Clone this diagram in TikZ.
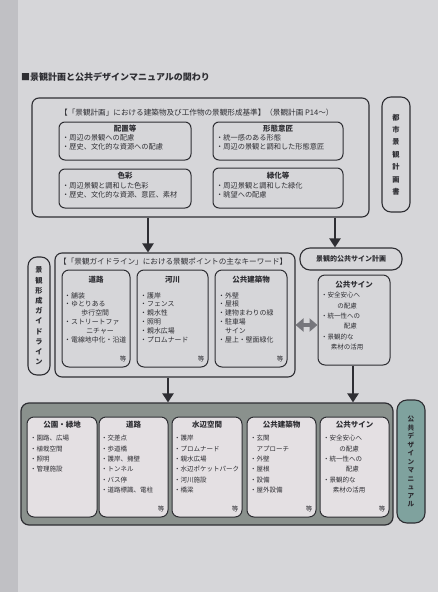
\documentclass[tikz,border=0pt]{standalone}
\usepackage{fontspec}
\setmainfont{Noto Sans CJK JP}
\usetikzlibrary{arrows.meta}
\definecolor{paper}{HTML}{D6D6D9}
\definecolor{edge}{HTML}{C0C0C4}
\definecolor{ink}{HTML}{2E2E33}
\definecolor{panel}{HTML}{8A918D}
\definecolor{cell}{HTML}{E4E0E3}
\definecolor{tealbox}{HTML}{7FA29E}
\definecolor{dblgray}{HTML}{76767C}
\tikzset{
  frame/.style={draw=ink, line width=1.1pt, rounded corners=7pt, inner sep=0pt},
  sub/.style={draw=ink, line width=1pt, rounded corners=6pt, inner sep=0pt},
  cellbox/.style={draw=ink, line width=1pt, rounded corners=7pt, fill=cell, inner sep=0pt},
  ttl/.style={font=\fontsize{7.5}{8}\selectfont\bfseries, text=ink, inner sep=0pt},
  hdr/.style={font=\fontsize{7.6}{8}\selectfont, text=ink, inner sep=0pt, anchor=west},
  itm/.style={font=\fontsize{6.9}{8.8}\selectfont, text=ink, align=left, inner sep=0pt, anchor=north west},
  itmt/.style={font=\fontsize{7.2}{9}\selectfont, text=ink, align=left, inner sep=0pt, anchor=north west},
  itmb/.style={font=\fontsize{6.5}{10.4}\selectfont, text=ink, align=left, inner sep=0pt, anchor=north west},
  etc/.style={font=\fontsize{6.5}{8}\selectfont, text=ink, inner sep=0pt, anchor=south east},
  vtxt/.style={font=\fontsize{7.2}{#1}\selectfont\bfseries, text=ink, align=center, inner sep=0pt},
  flow/.style={draw=ink, line width=2.4pt, -{Triangle[length=9pt,width=11pt]}},
  dbl/.style={draw=dblgray, line width=3.5pt, {Triangle[length=8pt,width=13pt]}-{Triangle[length=8pt,width=13pt]}},
}
\begin{document}
\begin{tikzpicture}[x=1pt,y=-1pt]
\useasboundingbox (0,0) rectangle (438,592);
\fill[paper] (0,0) rectangle (438,592);
\fill[edge] (0,0) rectangle (18,592);

% title
\node[font=\fontsize{9}{10}\selectfont\bfseries, text=ink, anchor=west, inner sep=0pt] (title) at (21,77) {■景観計画と公共デザインマニュアルの関わり};

% ---------- top block ----------
\node[frame, minimum width=337pt, minimum height=119pt] (top) at (200.5,157.5) {};
\node[hdr] (tophdr) at (60,113) {【「景観計画」における建築物及び工作物の景観形成基準】（景観計画 P14～）};
\node[sub, minimum width=132pt, minimum height=38pt] (tl) at (125,141) {};
\node[sub, minimum width=130pt, minimum height=38pt] (tr) at (278,141) {};
\node[sub, minimum width=132pt, minimum height=39pt] (bl) at (125,188.5) {};
\node[sub, minimum width=130pt, minimum height=40pt] (br) at (278,188) {};
\node[ttl] (tlt) at (125,129) {配置等};
\node[itmt] (tli) at (62,134.5) {・周辺の景観への配慮\\・歴史、文化的な資源への配慮};
\node[ttl] (trt) at (278,129) {形態意匠};
\node[itmt] (tri) at (216,134.5) {・統一感のある形態\\・周辺の景観と調和した形態意匠};
\node[ttl] (blt) at (125,176) {色彩};
\node[itmt] (bli) at (62,182) {・周辺景観と調和した色彩\\・歴史、文化的な資源、意匠、素材};
\node[ttl] (brt) at (278,176) {緑化等};
\node[itmt] (bri) at (216,182) {・周辺景観と調和した緑化\\・眺望への配慮};

\node[frame, rounded corners=9pt, minimum width=28pt, minimum height=115pt] (rv1) at (396,154.5) {};
\node[vtxt=12.4] (rv1t) at (rv1.center) {都\\市\\景\\観\\計\\画\\書};

% ---------- middle block ----------
\node[frame, minimum width=240pt, minimum height=124pt] (mid) at (175,315) {};
\node[hdr] (midhdr) at (59,262) {【「景観ガイドライン」における景観ポイントの主なキーワード】};
\node[sub, rounded corners=7pt, minimum width=68pt, minimum height=97pt] (c1) at (96,318.5) {};
\node[sub, rounded corners=7pt, minimum width=71pt, minimum height=97pt] (c2) at (172.5,318.5) {};
\node[sub, rounded corners=7pt, minimum width=72pt, minimum height=97pt] (c3) at (251,318.5) {};
\node[ttl] (c1t) at (96,280) {道路};
\node[itm] (c1i) at (64,292) {・舗装\\・ゆとりある\\\hspace*{2.5em}歩行空間\\・ストリートファ\\\hspace*{3.2em}ニチャー\\・電線地中化・沿道};
\node[etc] (c1e) at ([xshift=-4pt,yshift=5pt]c1.south east) {等};
\node[ttl] (c2t) at (172.5,280) {河川};
\node[itm] (c2i) at (140,292) {・護岸\\・フェンス\\・親水性\\・照明\\・親水広場\\・プロムナード};
\node[etc] (c2e) at ([xshift=-4pt,yshift=5pt]c2.south east) {等};
\node[ttl] (c3t) at (251,280) {公共建築物};
\node[itm] (c3i) at (218,292) {・外壁\\・屋根\\・建物まわりの緑\\・駐車場\\\hspace*{1em}サイン\\・屋上・壁面緑化};
\node[etc] (c3e) at ([xshift=-4pt,yshift=5pt]c3.south east) {等};

\node[frame, rounded corners=9pt, minimum width=22pt, minimum height=118pt] (lv) at (39,316) {};
\node[vtxt=10.2] (lvt) at (lv.center) {景\\観\\形\\成\\ガ\\イ\\ド\\ラ\\イ\\ン};

\node[frame, rounded corners=10pt, minimum width=102pt, minimum height=22pt] (rh) at (351,259) {};
\node[font=\fontsize{7}{8}\selectfont\bfseries, text=ink, inner sep=0pt] (rht) at (rh.center) {景観的公共サイン計画};
\node[sub, rounded corners=7pt, minimum width=72pt, minimum height=90pt] (ri) at (354,320) {};
\node[ttl] (rit) at (354,285) {公共サイン};
\node[itmb] (rii) at (321,292) {・安全安心へ\\\hspace*{2.5em}の配慮\\・統一性への\\\hspace*{3.5em}配慮\\・景観的な\\\hspace*{1.5em}素材の活用};

% ---------- bottom block ----------
\node[draw=ink, line width=1.2pt, rounded corners=8pt, fill=panel, minimum width=372pt, minimum height=122pt, inner sep=0pt] (bot) at (207,464) {};
\node[cellbox, minimum width=70pt, minimum height=100pt] (b1) at (62,467) {};
\node[cellbox, minimum width=69pt, minimum height=100pt] (b2) at (133.5,467) {};
\node[cellbox, minimum width=70pt, minimum height=100pt] (b3) at (207,467) {};
\node[cellbox, minimum width=69pt, minimum height=100pt] (b4) at (281.5,467) {};
\node[cellbox, minimum width=69pt, minimum height=100pt] (b5) at (354.5,467) {};
\node[ttl] (b1t) at (62,425) {公園・緑地};
\node[itmb] (b1i) at (30,435) {・園路、広場\\・植栽空間\\・照明\\・管理施設};
\node[ttl] (b2t) at (133.5,425) {道路};
\node[itmb] (b2i) at (101,435) {・交差点\\・歩道橋\\・護岸、擁壁\\・トンネル\\・バス停\\・道路標識、電柱};
\node[etc] (b2e) at ([xshift=-4pt,yshift=5pt]b2.south east) {等};
\node[ttl] (b3t) at (207,425) {水辺空間};
\node[itmb] (b3i) at (174,435) {・護岸\\・プロムナード\\・親水広場\\・水辺ポケットパーク\\・河川施設\\・橋梁};
\node[etc] (b3e) at ([xshift=-4pt,yshift=5pt]b3.south east) {等};
\node[ttl] (b4t) at (281.5,425) {公共建築物};
\node[itmb] (b4i) at (250,435) {・玄関\\\hspace*{1em}アプローチ\\・外壁\\・屋根\\・設備\\・屋外設備};
\node[etc] (b4e) at ([xshift=-4pt,yshift=5pt]b4.south east) {等};
\node[ttl] (b5t) at (354.5,425) {公共サイン};
\node[itmb] (b5i) at (323,435) {・安全安心へ\\\hspace*{2.5em}の配慮\\・統一性への\\\hspace*{3.5em}配慮\\・景観的な\\\hspace*{1.5em}素材の活用};
\node[etc] (b5e) at ([xshift=-4pt,yshift=5pt]b5.south east) {等};

\node[draw=ink, line width=1.1pt, rounded corners=10pt, fill=tealbox, minimum width=28pt, minimum height=123pt, inner sep=0pt] (tv) at (411,461.5) {};
\node[font=\fontsize{6.6}{8.5}\selectfont\bfseries, text=ink, align=center, inner sep=0pt] (tvt) at (tv.center) {公\\共\\デ\\ザ\\イ\\ン\\マ\\ニ\\ュ\\ア\\ル};

% ---------- connectors ----------
\coordinate (a1) at (148,0);
\coordinate (a2) at (335,0);
\coordinate (a3) at (168,0);
\coordinate (a4) at (353,0);
\draw[flow] (top.south -| a1) -- (mid.north -| a1);
\draw[flow] (top.south -| a2) -- (rh.north -| a2);
\draw[flow] (mid.south -| a3) -- (bot.north -| a3);
\draw[flow] (ri.south -| a4) -- (bot.north -| a4);
\draw[dbl] ([yshift=-5pt]ri.west -| mid.east) -- ([yshift=-5pt]ri.west);
\end{tikzpicture}
\end{document}
